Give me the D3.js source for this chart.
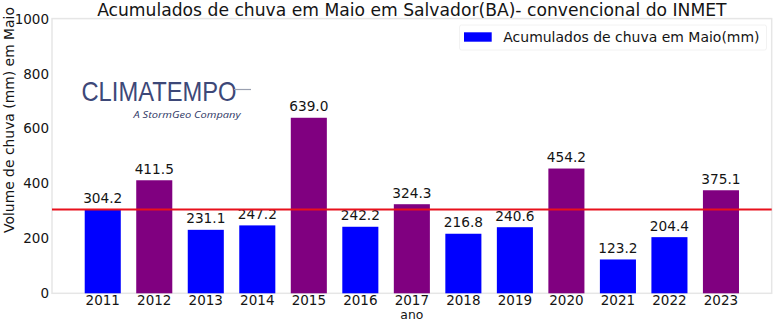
<!DOCTYPE html>
<html>
<head>
<meta charset="utf-8">
<script src="https://cdn.jsdelivr.net/npm/d3@7"></script>
<style>
  html, body { margin: 0; padding: 0; background: #fff; }
  svg { display: block; font-family: "DejaVu Sans", sans-serif; }
</style>
</head>
<body>
<svg id="chart" width="774" height="323"></svg>
<script>
// ---- data ----
const years = ["2011","2012","2013","2014","2015","2016","2017","2018","2019","2020","2021","2022","2023"];
const rainfall = [304.2, 411.5, 231.1, 247.2, 639.0, 242.2, 324.3, 216.8, 240.6, 454.2, 123.2, 204.4, 375.1];
const referenceLine = 305;
const yTicks = [0, 200, 400, 600, 800, 1000];
const titleText = "Acumulados de chuva em Maio em Salvador(BA)- convencional do INMET";
const legendLabel = "Acumulados de chuva em Maio(mm)";
const yLabel = "Volume de chuva (mm) em Maio";
const xLabel = "ano";

// ---- layout ----
const svg = d3.select("#chart");
const mLeft = 52, mRight = 771.7, mTop = 18.6, mBottom = 293.3;
const barW = 0.7;
const x = d3.scaleLinear().domain([-0.985, years.length - 1 + 0.985]).range([mLeft, mRight]);
const y = d3.scaleLinear().domain([0, 1000]).range([mBottom, mTop]);
const blue = "#0000ff", purple = "#800080";
const colorOf = v => v > referenceLine ? purple : blue;
const ink = "#141414";

// fit a text element to a target width by adjusting its font size
function fitWidth(sel, target) {
  const node = sel.node();
  const fs = parseFloat(sel.attr("font-size"));
  const w = node.getComputedTextLength();
  if (w > 0) sel.attr("font-size", (fs * target / w).toFixed(2));
  return sel;
}

// spines
svg.append("rect")
  .attr("x", mLeft).attr("y", mTop)
  .attr("width", mRight - mLeft).attr("height", mBottom - mTop)
  .attr("fill", "none").attr("stroke", "#e6e6e6").attr("stroke-width", 1.5);

// bars
svg.selectAll("rect.bar").data(rainfall).enter().append("rect")
  .attr("class", "bar")
  .attr("x", (d, i) => x(i - barW / 2))
  .attr("width", (d, i) => x(i + barW / 2) - x(i - barW / 2))
  .attr("y", d => y(d))
  .attr("height", d => y(0) - y(d))
  .attr("fill", d => colorOf(d));

// value labels
svg.selectAll("text.val").data(rainfall).enter().append("text")
  .attr("class", "val")
  .attr("x", (d, i) => x(i))
  .attr("y", d => y(d) - 6.5)
  .attr("text-anchor", "middle")
  .attr("font-size", 13.7)
  .attr("fill", ink)
  .text(d => d.toFixed(1));

// reference line
svg.append("line")
  .attr("x1", mLeft).attr("x2", mRight)
  .attr("y1", y(referenceLine)).attr("y2", y(referenceLine))
  .attr("stroke", "#e8101c").attr("stroke-width", 2.2);

// y tick labels
svg.selectAll("text.ytick").data(yTicks).enter().append("text")
  .attr("class", "ytick")
  .attr("x", mLeft - 3)
  .attr("y", d => y(d) + 5)
  .attr("text-anchor", "end")
  .attr("font-size", 13.5)
  .attr("fill", ink)
  .text(d => d);

// x tick labels
svg.selectAll("text.xtick").data(years).enter().append("text")
  .attr("class", "xtick")
  .attr("x", (d, i) => x(i))
  .attr("y", 305)
  .attr("text-anchor", "middle")
  .attr("font-size", 13.5)
  .attr("fill", ink)
  .text(d => d);

// title
fitWidth(svg.append("text")
  .attr("x", (mLeft + mRight) / 2).attr("y", 15.5)
  .attr("text-anchor", "middle")
  .attr("font-size", 17.5)
  .attr("fill", ink)
  .text(titleText), 630);

// axis labels
fitWidth(svg.append("text")
  .attr("transform", "translate(13.5,120) rotate(-90)")
  .attr("text-anchor", "middle")
  .attr("font-size", 13)
  .attr("fill", ink)
  .text(yLabel), 226);

fitWidth(svg.append("text")
  .attr("x", (mLeft + mRight) / 2).attr("y", 318.5)
  .attr("text-anchor", "middle")
  .attr("font-size", 12.5)
  .attr("fill", ink)
  .text(xLabel), 23);

// legend
const lg = svg.append("g");
lg.append("rect")
  .attr("x", 459.5).attr("y", 25).attr("width", 307).attr("height", 25)
  .attr("rx", 2).attr("fill", "#fff").attr("stroke", "#f2f2f2");
lg.append("rect")
  .attr("x", 464).attr("y", 32.3).attr("width", 27.7).attr("height", 9.4)
  .attr("fill", blue);
fitWidth(lg.append("text")
  .attr("x", 503.3).attr("y", 42.3)
  .attr("font-size", 14.2)
  .attr("fill", ink)
  .text(legendLabel), 256);

// logo (watermark)
const logo = svg.append("g");
logo.append("text")
  .attr("x", 81.5).attr("y", 101.3)
  .attr("font-family", "'Liberation Sans Narrow', 'Liberation Sans', sans-serif")
  .attr("font-size", 28)
  .attr("textLength", 155).attr("lengthAdjust", "spacingAndGlyphs")
  .attr("fill", "#3d4878")
  .text("CLIMATEMPO");
logo.append("line")
  .attr("x1", 234).attr("x2", 251).attr("y1", 89.5).attr("y2", 89.5)
  .attr("stroke", "#9aa0b0").attr("stroke-width", 1.2);
logo.append("text")
  .attr("x", 133.5).attr("y", 117.8)
  .attr("font-family", "'Open Sans', sans-serif")
  .attr("font-style", "italic")
  .attr("font-size", 9.5)
  .attr("textLength", 107).attr("lengthAdjust", "spacingAndGlyphs")
  .attr("fill", "#2f3866")
  .text("A StormGeo Company");
</script>
</body>
</html>
